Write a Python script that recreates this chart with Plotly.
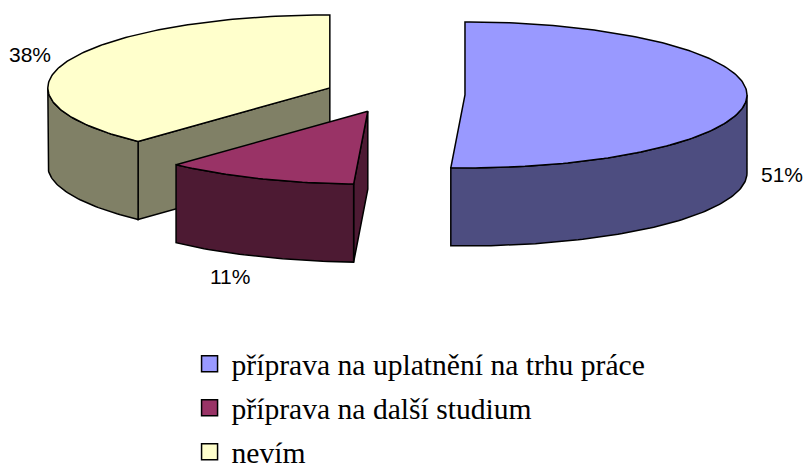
"""Exploded 3D-look pie chart, projected by hand since Plotly has no 3D pie."""

import numpy as np
import plotly.graph_objects as go

LABELS = ["příprava na uplatnění na trhu práce", "příprava na další studium", "nevím"]
SHARES = [50.8, 11.1, 38.1]
PCT_TEXT = ["51%", "11%", "38%"]

TOP_COLORS = ["#9999FF", "#993366", "#FFFFCC"]
SIDE_COLORS = ["#4D4D80", "#4D1A33", "#808066"]
# the pie is drawn in picture pixels
CX, CY = 395, 94.5
RX, RY = 282, 73
DEPTH = 78
EXPLODE = 70
FONT_SERIF = "Liberation Serif"
FONT_SANS = "Liberation Sans"


def rim(cx, cy, a0, a1, dy=0):
    # angles in degrees, clockwise from 12 o'clock
    t = np.radians(np.linspace(a0, a1, max(int(abs(a1 - a0)), 2)))
    return cx + RX * np.sin(t), cy - RY * np.cos(t) + dy


def poly(fig, xs, ys, color):
    fig.add_trace(go.Scatter(
        x=np.append(xs, xs[0]), y=np.append(ys, ys[0]), mode="lines", fill="toself",
        fillcolor=color, line=dict(color="black", width=1.5),
        showlegend=False, hoverinfo="skip",
    ))


ends = np.cumsum(SHARES) * 3.6
starts = ends - np.array(SHARES) * 3.6
centers = []
for a0, a1 in zip(starts, ends):
    mid = np.radians((a0 + a1) / 2)
    centers.append((CX + EXPLODE * np.sin(mid), CY - EXPLODE * RY / RX * np.cos(mid)))

fig = go.Figure()

# back to front: yellow, magenta, blue
for i in [2, 1, 0]:
    cx, cy = centers[i]
    a0, a1 = starts[i], ends[i]

    # the start cut face looks towards the viewer when it starts in the lower half
    if 90 < a0 < 270:
        ex, ey = rim(cx, cy, a0, a0 + 0.01)
        poly(fig, [cx, ex[0], ex[0], cx], [cy, ey[0], ey[0] + DEPTH, cy + DEPTH], SIDE_COLORS[i])

    # outer wall, front half only
    w0, w1 = max(a0, 90), min(a1, 270)
    if w1 > w0:
        tx, ty = rim(cx, cy, w0, w1)
        bx, by = rim(cx, cy, w0, w1, DEPTH)
        poly(fig, np.r_[tx, bx[::-1]], np.r_[ty, by[::-1]], SIDE_COLORS[i])

    # top
    ax, ay = rim(cx, cy, a0, a1)
    poly(fig, np.r_[cx, ax], np.r_[cy, ay], TOP_COLORS[i])

# legend entries
for i, label in enumerate(LABELS):
    fig.add_trace(go.Scatter(
        x=[None], y=[None], mode="markers", name=label, legendgroup=label,
        marker=dict(symbol="square", size=16, color=TOP_COLORS[i], line=dict(color="black", width=1.5)),
    ))

for text, x, y in zip(PCT_TEXT, [782, 230, 30], [174, 276, 54]):
    fig.add_annotation(x=x, y=y, text=text, showarrow=False, font=dict(family=FONT_SANS, size=21, color="black"))

fig.update_layout(
    width=805, height=467,
    # autoexpand off, otherwise the tall legend squeezes the plot area
    margin=dict(l=0, r=0, t=0, b=0, autoexpand=False),
    paper_bgcolor="white", plot_bgcolor="white", hovermode=False,
    xaxis=dict(range=[0, 805], visible=False, fixedrange=True),
    yaxis=dict(range=[467, 0], visible=False, fixedrange=True),
    showlegend=True,
    legend=dict(
        x=0.233, y=0.276, xanchor="left", yanchor="top", traceorder="grouped",
        tracegroupgap=2.5, itemwidth=34, maxheight=200,
        font=dict(family=FONT_SERIF, size=29.6, color="black"),
        bgcolor="rgba(0,0,0,0)",
    ),
)

# the page's default body margin would push the figure off the window
fig.write_html("out.html", config=dict(displayModeBar=False),
               post_script="document.body.style.margin = '0';")
